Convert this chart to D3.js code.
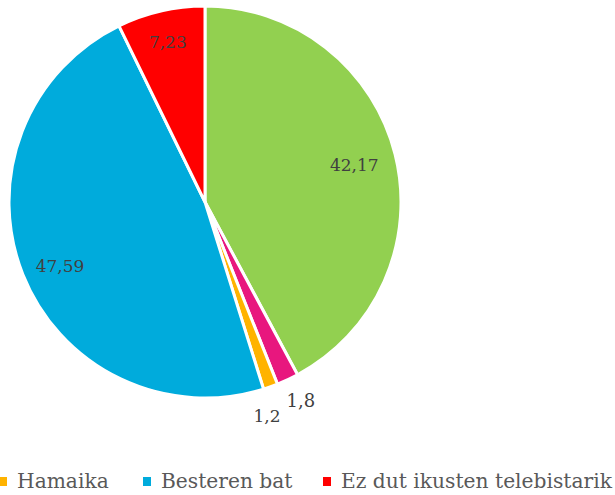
<!DOCTYPE html>
<html><head><meta charset="utf-8">
<script src="https://cdn.jsdelivr.net/npm/d3@7"></script>
<style>body{margin:0;background:#fff}svg{display:block}</style>
</head><body>
<svg id="c" width="615" height="495"></svg>
<script>
const categories = ["Green", "Magenta", "Hamaika", "Besteren bat", "Ez dut ikusten telebistarik"];
const values = [42.17, 1.8, 1.2, 47.59, 7.23];
const labels = ["42,17", "1,8", "1,2", "47,59", "7,23"];
const colors = ["#92D050", "#E8177E", "#FFB300", "#00ABDC", "#FF0000"];
const legendItems = [2, 3, 4];

const svg = d3.select("#c");
const cx = 205, cy = 202, R = 196;
const g = svg.append("g").attr("transform", `translate(${cx},${cy})`);
const pie = d3.pie().sort(null).value(d => d)(values);
const arc = d3.arc().innerRadius(0).outerRadius(R);
g.selectAll("path").data(pie).join("path")
  .attr("d", arc).attr("fill", (d, i) => colors[i])
  .attr("stroke", "#fff").attr("stroke-width", 3).attr("stroke-linejoin", "round");

const font = "'DejaVu Serif', serif";
const lab = (r) => d3.arc().innerRadius(R * r).outerRadius(R * r);
const offsets = [
  {r: 0.78, dx: 1, dy: 0, size: 17},
  {r: 1.1, dx: 5, dy: 3, size: 18},
  {r: 1.1, dx: -10, dy: 11, size: 17},
  {r: 0.78, dx: -3, dy: 8, size: 17},
  {r: 0.82, dx: -1, dy: -3, size: 17}
];
pie.forEach((d, i) => {
  const o = offsets[i];
  const p = lab(o.r).centroid(d);
  g.append("text").attr("x", p[0] + o.dx).attr("y", p[1] + o.dy).attr("dy", "0.35em")
    .attr("text-anchor", "middle").attr("font-family", font).attr("font-size", o.size)
    .attr("fill", "#404040").text(labels[i]);
});

// legend
const legX = [0, 144, 324];
const legTexts = [];
legendItems.forEach((ci, k) => {
  svg.append("rect").attr("x", legX[k] - 1).attr("y", 477).attr("width", 8).attr("height", 9).attr("fill", colors[ci]);
  legTexts.push(svg.append("text").attr("x", legX[k] + 17).attr("y", 488).attr("font-family", font).attr("font-size", 20)
    .attr("fill", "#595959").text(categories[ci]));
});
// fit the longest entry to the available width
const last = legTexts[legTexts.length - 1];
const w = last.node().getComputedTextLength();
const fs = 20 * 271 / w;
legTexts.forEach(t => t.attr("font-size", fs));
</script>
</body></html>
